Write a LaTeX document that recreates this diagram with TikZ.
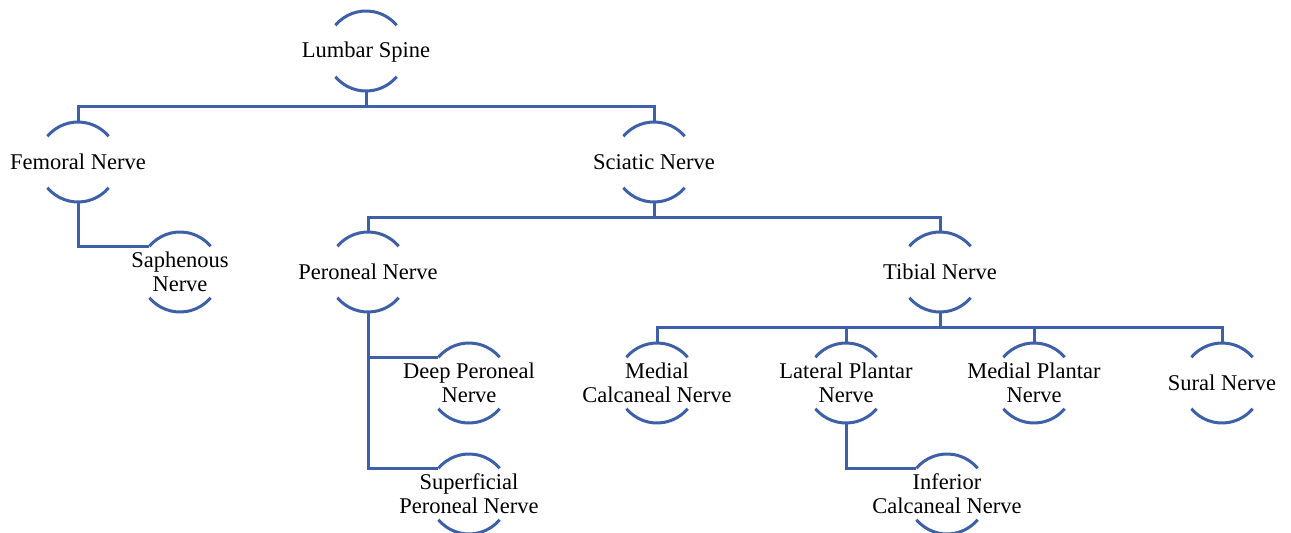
\documentclass[tikz,border=0pt]{standalone}
\usepackage{fontspec}
\setmainfont{Liberation Serif}
\definecolor{nblue}{RGB}{62,96,168}
\newcommand\nstrut{\rule[-2.5pt]{0pt}{20.5pt}}
\begin{document}
\begin{tikzpicture}[x=1pt,y=-1pt,
  nerve/.style={align=center,inner sep=0pt,font=\fontsize{22.5pt}{24pt}\selectfont},
  arcst/.style={draw=nblue,line width=3pt},
  link/.style={draw=nblue,line width=3pt}]
\useasboundingbox (0,0) rectangle (1291,533);
\node[nerve] (lumbar)  at (366,51)  {\nstrut Lumbar Spine};
\node[nerve] (femoral) at (78,162)  {\nstrut Femoral Nerve};
\node[nerve] (sciatic) at (654,162) {\nstrut Sciatic Nerve};
\node[nerve] (saph)    at (180,272) {\nstrut Saphenous\\\nstrut Nerve};
\node[nerve] (peroneal) at (368,272) {\nstrut Peroneal Nerve};
\node[nerve] (tibial)  at (940,272) {\nstrut Tibial Nerve};
\node[nerve] (deep)    at (469,383) {\nstrut Deep Peroneal\\\nstrut Nerve};
\node[nerve] (superf)  at (469,494) {\nstrut Superficial\\\nstrut Peroneal Nerve};
\node[nerve] (medcal)  at (657,383) {\nstrut Medial\\\nstrut Calcaneal Nerve};
\node[nerve] (latpl)   at (846,383) {\nstrut Lateral Plantar\\\nstrut Nerve};
\node[nerve] (medpl)   at (1034,383) {\nstrut Medial Plantar\\\nstrut Nerve};
\node[nerve] (sural)   at (1222,383) {\nstrut Sural Nerve};
\node[nerve] (infcal)  at (947,494) {\nstrut Inferior\\\nstrut Calcaneal Nerve};
\foreach \n in {lumbar,femoral,sciatic,saph,peroneal,tibial,deep,superf,medcal,latpl,medpl,sural,infcal}{
  \draw[arcst] ([shift={(140:40pt)}]\n.center) arc[start angle=140,end angle=40,radius=40pt];
  \draw[arcst] ([shift={(220:40pt)}]\n.center) arc[start angle=220,end angle=320,radius=40pt];
}
\foreach \p/\c in {lumbar/femoral,lumbar/sciatic,sciatic/peroneal,sciatic/tibial,tibial/medcal,tibial/latpl,tibial/medpl,tibial/sural}{
  \draw[link] ([yshift=-40pt]\p.center) -- ++(0,-15pt) -| ([yshift=40pt]\c.center);
}
\foreach \p/\c in {femoral/saph,peroneal/deep,peroneal/superf,latpl/infcal}{
  \draw[link] ([yshift=-40pt]\p.center) |- ([shift={(140:40pt)}]\c.center);
}
\end{tikzpicture}
\end{document}
